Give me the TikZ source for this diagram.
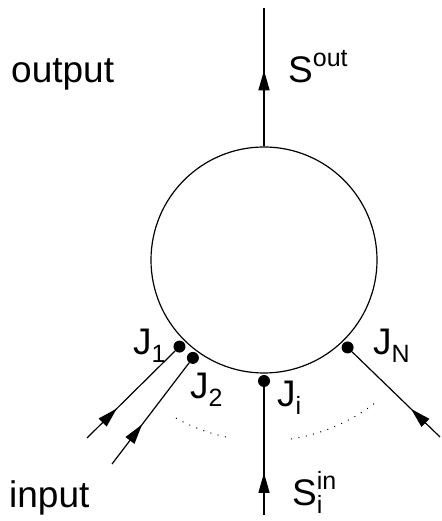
\documentclass[tikz,border=0pt]{standalone}
\usepackage{fontspec}
\setmainfont{Liberation Sans}
\usetikzlibrary{calc,arrows.meta,decorations.markings}

\newcommand{\lowidx}[1]{\raisebox{-8pt}{\fontsize{25}{25}\selectfont #1}}
\newcommand{\highidx}[1]{\raisebox{16pt}{\fontsize{25}{25}\selectfont #1}}

\tikzset{
    lbl/.style={font=\fontsize{37}{44}\selectfont, inner sep=0pt, anchor=base west},
    junction/.style={circle, fill=black, minimum size=12pt, inner sep=0pt},
    flowtip/.tip={Triangle[length=20pt,width=11pt]},
    flow/.style={line width=1.2pt, postaction={decorate},
        decoration={markings, mark=at position #1 with {\arrow{flowtip}}}},
    spread/.style={line width=1pt, dash pattern=on 1pt off 6.5pt}
}

\begin{document}
\begin{tikzpicture}[x=1pt,y=1pt]
        \useasboundingbox (0,0) rectangle (441,521);

        \def \dotradius {121}
        \def \spreadradius {181}

        \coordinate (c) at (264,261);
        \node[draw, circle, line width=1.2pt, minimum size=226pt, inner sep=0pt] (ring) at (c) {};

        \foreach \name/\ang in {j1/225.7, j2/234, ji/270, jn/313.7}{
            \node[junction] (\name) at ($(c)+(\ang:\dotradius)$) {};
        };

        \coordinate (top) at (264,513);
        \coordinate (e1) at (87,83);
        \coordinate (e2) at (112,57);
        \coordinate (ei) at (264,6);
        \coordinate (en) at (440,84);

        \draw[flow=0.55] (ring.north) -- (top);
        \draw[flow=0.34] (e1) -- (j1);
        \draw[flow=0.39] (e2) -- (j2);
        \draw[flow=0.33] (ei) -- (ji);
        \draw[flow=0.33] (en) -- (jn);

        \draw[spread] ($(c)+(240.9:\spreadradius)$) arc[start angle=240.9, end angle=258.4, radius=\spreadradius];
        \draw[spread] ($(c)+(278.6:\spreadradius)$) arc[start angle=278.6, end angle=308, radius=\spreadradius];

        \node[lbl] (output) at (11,438) {output};
        \node[lbl] (sout) at (288,438) {S\highidx{out}};
        \node[lbl] (lj1) at (133,166) {J\lowidx{1}};
        \node[lbl] (lj2) at (190,122) {J\lowidx{2}};
        \node[lbl] (lji) at (277,114) {J\lowidx{i}};
        \node[lbl] (ljn) at (373,166) {J\lowidx{N}};
        \node[lbl] (input) at (9,13) {input};
        \node[lbl] (sin) at (292,15) {S\rlap{\highidx{in}}\lowidx{i}};

    \end{tikzpicture}
\end{document}
